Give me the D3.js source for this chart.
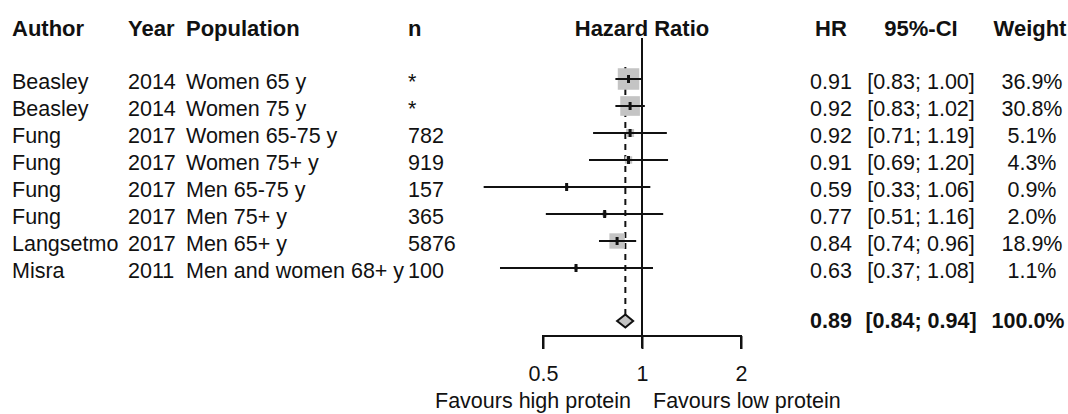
<!DOCTYPE html>
<html>
<head>
<meta charset="utf-8">
<script src="https://cdn.jsdelivr.net/npm/d3@7"></script>
<style>
  body { margin: 0; background: #fff; }
  text { font-family: "Liberation Sans", Arial, sans-serif; font-size: 21.5px; fill: #111; }
  .bold { font-weight: bold; font-size: 22px; }
</style>
</head>
<body>
<svg width="1068" height="414"></svg>
<script>
// study level data
const authors = ["Beasley", "Beasley", "Fung", "Fung", "Fung", "Fung", "Langsetmo", "Misra"];
const years = ["2014", "2014", "2017", "2017", "2017", "2017", "2017", "2011"];
const populations = ["Women 65 y", "Women 75 y", "Women 65-75 y", "Women 75+ y",
  "Men 65-75 y", "Men 75+ y", "Men 65+ y", "Men and women 68+ y"];
const ns = ["*", "*", "782", "919", "157", "365", "5876", "100"];
const hr = [0.91, 0.92, 0.92, 0.91, 0.59, 0.77, 0.84, 0.63];
const lower = [0.83, 0.83, 0.71, 0.69, 0.33, 0.51, 0.74, 0.37];
const upper = [1.00, 1.02, 1.19, 1.20, 1.06, 1.16, 0.96, 1.08];
const weights = [36.9, 30.8, 5.1, 4.3, 0.9, 2.0, 18.9, 1.1];

// pooled estimate
const pooled = { hr: 0.89, lower: 0.84, upper: 0.94, weight: 100.0 };

const tickValues = [0.5, 1, 2];
const favourLabels = ["Favours high protein", "Favours low protein"];

const svg = d3.select("svg");
const f2 = d3.format(".2f");
const f1 = d3.format(".1f");

const x = d3.scaleLog().base(2).domain([0.5, 2]).range([543, 741]);
const y = d3.scaleLinear().domain([0, 9]).range([79, 322]);
const size = d3.scaleSqrt().domain([0, d3.max(weights)]).range([0, 21.5]);

const rows = hr.map((d, i) => ({
  author: authors[i], year: years[i], pop: populations[i], n: ns[i],
  hr: d, lo: lower[i], hi: upper[i], w: weights[i], i: i
}));

// headers
const headers = [
  { t: "Author", x: 12, a: "start" },
  { t: "Year", x: 128, a: "start" },
  { t: "Population", x: 186, a: "start" },
  { t: "n", x: 408, a: "start" },
  { t: "Hazard Ratio", x: x(1), a: "middle" },
  { t: "HR", x: 831, a: "middle" },
  { t: "95%-CI", x: 921, a: "middle" },
  { t: "Weight", x: 1030, a: "middle" }
];
svg.selectAll(".hdr").data(headers).enter().append("text")
  .attr("class", "hdr bold")
  .attr("x", d => d.x).attr("y", 36)
  .attr("text-anchor", d => d.a)
  .text(d => d.t);

// reference line at 1
svg.append("line")
  .attr("x1", x(1)).attr("x2", x(1))
  .attr("y1", 38).attr("y2", 348)
  .attr("stroke", "#111").attr("stroke-width", 2);

// pooled dashed line
svg.append("line")
  .attr("x1", x(pooled.hr)).attr("x2", x(pooled.hr))
  .attr("y1", y(0) - 12).attr("y2", y(9) - 6)
  .attr("stroke", "#111").attr("stroke-width", 2)
  .attr("stroke-dasharray", "6,5");

// table columns
const cols = [
  { k: d => d.author, x: 12, a: "start" },
  { k: d => d.year, x: 128, a: "start" },
  { k: d => d.pop, x: 186, a: "start" },
  { k: d => d.n, x: 408, a: "start" },
  { k: d => f2(d.hr), x: 831, a: "middle" },
  { k: d => "[" + f2(d.lo) + "; " + f2(d.hi) + "]", x: 921, a: "middle" },
  { k: d => f1(d.w) + "%", x: 1032, a: "middle" }
];
cols.forEach(c => {
  svg.selectAll(null).data(rows).enter().append("text")
    .attr("x", c.x).attr("y", d => y(d.i) + 10)
    .attr("text-anchor", c.a)
    .text(c.k);
});

// squares
svg.selectAll(".sq").data(rows).enter().append("rect")
  .attr("class", "sq")
  .attr("x", d => x(d.hr) - size(d.w) / 2)
  .attr("y", d => y(d.i) - size(d.w) / 2)
  .attr("width", d => size(d.w))
  .attr("height", d => size(d.w))
  .attr("fill", "#c4c4c4");

// CI lines
svg.selectAll(".ci").data(rows).enter().append("line")
  .attr("class", "ci")
  .attr("x1", d => x(d.lo)).attr("x2", d => x(d.hi))
  .attr("y1", d => y(d.i)).attr("y2", d => y(d.i))
  .attr("stroke", "#111").attr("stroke-width", 2);

// point marks
svg.selectAll(".pt").data(rows).enter().append("line")
  .attr("class", "pt")
  .attr("x1", d => x(d.hr)).attr("x2", d => x(d.hr))
  .attr("y1", d => y(d.i) - 4).attr("y2", d => y(d.i) + 4)
  .attr("stroke", "#111").attr("stroke-width", 3);

// pooled diamond
const yp = y(9) - 1;
svg.append("path")
  .attr("d", "M" + x(pooled.lower) + "," + yp +
    "L" + x(pooled.hr) + "," + (yp - 6.5) +
    "L" + x(pooled.upper) + "," + yp +
    "L" + x(pooled.hr) + "," + (yp + 6.5) + "Z")
  .attr("fill", "#c4c4c4").attr("stroke", "#111").attr("stroke-width", 2);

const pooledText = [
  { t: f2(pooled.hr), x: 831 },
  { t: "[" + f2(pooled.lower) + "; " + f2(pooled.upper) + "]", x: 921 },
  { t: f1(pooled.weight) + "%", x: 1028 }
];
svg.selectAll(".pooled").data(pooledText).enter().append("text")
  .attr("class", "pooled bold")
  .attr("x", d => d.x).attr("y", yp + 7)
  .attr("text-anchor", "middle")
  .style("font-size", "21.5px")
  .text(d => d.t);

// x axis
const axis = d3.axisBottom(x).tickValues(tickValues).tickFormat(d3.format("")).tickSize(13).tickPadding(17);
const gx = svg.append("g").attr("transform", "translate(0,336)").call(axis);
gx.select(".domain").attr("stroke", "#111").attr("stroke-width", 2)
  .attr("d", "M" + x(0.5) + ",13V0H" + x(2) + "V13");
gx.selectAll(".tick line").attr("stroke", "#111").attr("stroke-width", 2);
gx.selectAll(".tick text").attr("font-size", null).attr("font-family", null)
  .style("font-size", "21.5px").attr("fill", "#111");

svg.append("text").attr("x", x(1) - 11).attr("y", 408)
  .attr("text-anchor", "end").text(favourLabels[0]);
svg.append("text").attr("x", x(1) + 11).attr("y", 408)
  .attr("text-anchor", "start").text(favourLabels[1]);
</script>
</body>
</html>
